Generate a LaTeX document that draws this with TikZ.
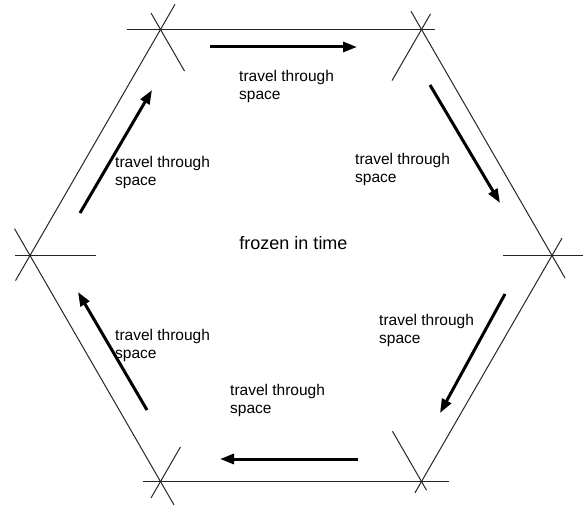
\documentclass[tikz,border=0pt]{standalone}
\usepackage{fontspec}
\setmainfont{Liberation Sans}
\usetikzlibrary{calc,arrows.meta}

\begin{document}
\begin{tikzpicture}[x=1pt,y=1pt,
    edge/.style={line width=1pt, black!85},
    move/.style={line width=3pt, -{Triangle[length=14pt,width=10pt]}},
    lbl/.style={anchor=north west, inner sep=0pt, align=left,
      font=\fontsize{15.5}{18}\selectfont}]
  \useasboundingbox (0,0) rectangle (585,506);

  % --- hexagon size ---
  \def\R{261}   % side length (= circumradius)
  \coordinate (c) at (291,250.5);

  % --- corners of the hexagon ---
  \foreach \a in {0,60,...,300} {
    \coordinate (v\a) at ($(c)+(\a:\R)$);
  }

  % --- horizontal lines (top, bottom, and the two side stubs) ---
  \draw[edge] ($(v120)+(180:34)$) -- ($(v60)+(0:13)$);
  \draw[edge] ($(v240)+(180:18)$) -- ($(v300)+(0:27)$);
  \draw[edge] ($(v180)+(180:15)$) -- ($(v180)+(0:66)$);
  \draw[edge] ($(v0)+(180:49)$) -- ($(v0)+(0:31)$);

  % --- slanted sides, with overshoot ---
  \draw[edge] ($(v180)+(240:29)$) -- ($(v120)+(60:29)$);
  \draw[edge] ($(v180)+(120:31)$) -- ($(v240)+(300:27)$);
  \draw[edge] ($(v60)+(120:21)$) -- ($(v0)+(300:26)$);
  \draw[edge] ($(v0)+(60:20)$) -- ($(v300)+(240:13)$);

  % --- short crossing strokes at the top and bottom corners ---
  \draw[edge] ($(v120)+(120:19)$) -- ($(v120)+(300:48)$);
  \draw[edge] ($(v60)+(60:18)$) -- ($(v60)+(240:59)$);
  \draw[edge] ($(v240)+(60:40)$) -- ($(v240)+(240:19)$);
  \draw[edge] ($(v300)+(120:58)$) -- ($(v300)+(300:10)$);

  % --- arrows, running clockwise ---
  \foreach \n/\sx/\sy/\ex/\ey in {top/210/459/357/459, ur/430/421/500/303,
      lr/505/212/440/93, bot/358/47/220/47, ll/147/96/78/214, ul/80/293/152/416} {
    \coordinate (\n-s) at (\sx,\sy);
    \coordinate (\n-e) at (\ex,\ey);
    \draw[move] (\n-s) -- (\n-e);
  }

  % --- labels ---
  \node[lbl] (txt-top) at (239,436) {travel through\\space};
  \node[lbl] (txt-ur) at (355,353) {travel through\\space};
  \node[lbl] (txt-lr) at (379,192) {travel through\\space};
  \node[lbl] (txt-bot) at (230,122) {travel through\\space};
  \node[lbl] (txt-ll) at (115,177) {travel through\\space};
  \node[lbl] (txt-ul) at (115,350) {travel through\\space};
  \node[inner sep=0pt, font=\fontsize{18}{21}\selectfont] (frozen) at (293.5,263) {frozen in time};
\end{tikzpicture}
\end{document}
